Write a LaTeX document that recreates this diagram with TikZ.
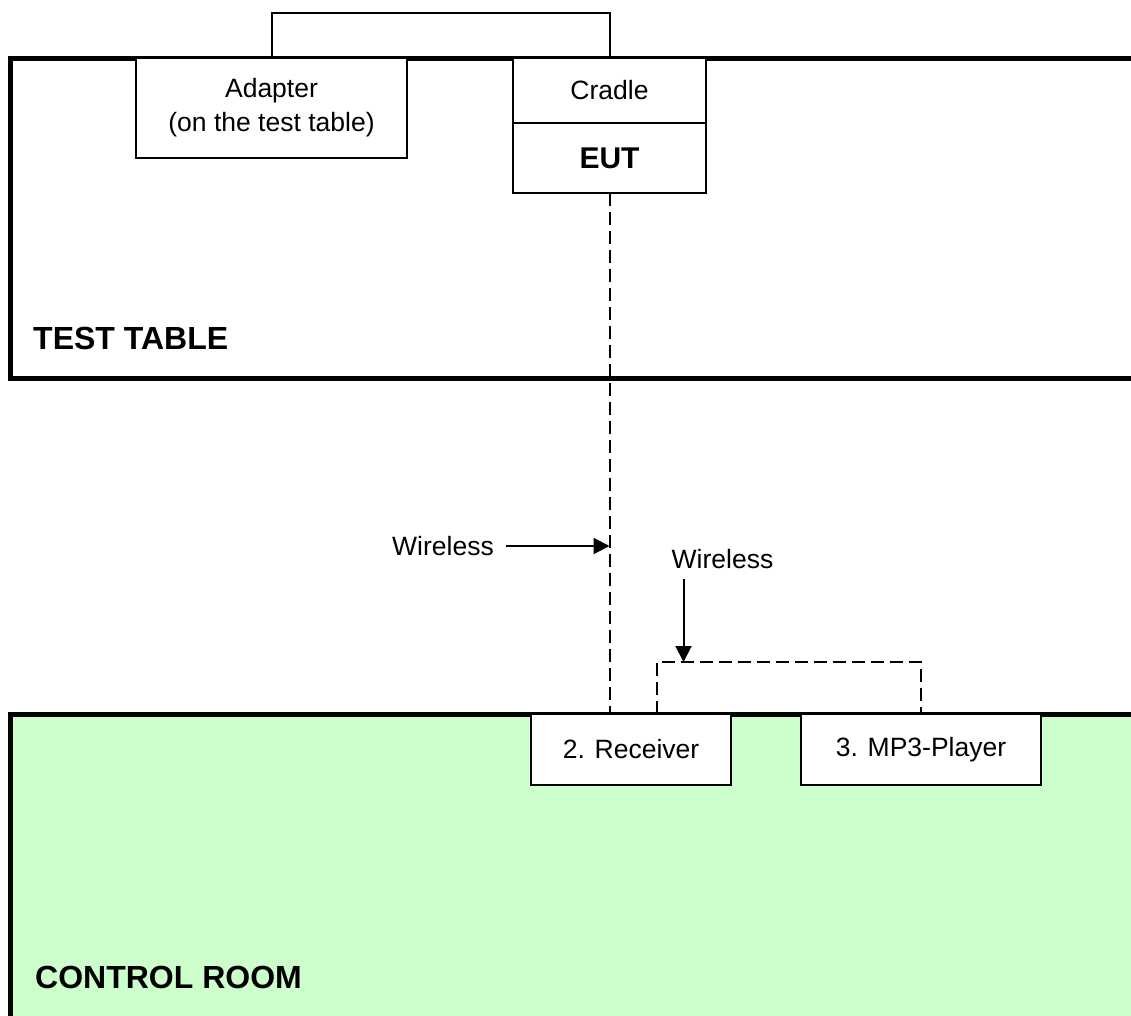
\documentclass[tikz,border=0pt]{standalone}
\usepackage{fontspec}
\setmainfont{Liberation Sans}
\usetikzlibrary{arrows.meta,positioning}
\definecolor{roomgreen}{HTML}{CCFFCC}

\begin{document}
\begin{tikzpicture}[x=1pt,y=-1pt,
  box/.style={draw,line width=2pt,fill=white,inner sep=0pt,outer sep=0pt,align=center,font=\fontsize{26.5}{34}\selectfont},
  wall/.style={line width=5pt},
  air/.style={line width=2pt,dash pattern=on 13pt off 6pt},
  ray/.style={line width=2pt,-{Triangle[length=16pt,width=16pt]}},
  zonename/.style={anchor=west,inner sep=0pt,font=\bfseries\fontsize{32}{38}\selectfont},
  radiolabel/.style={inner sep=0pt,font=\fontsize{26.5}{32}\selectfont}]
\clip (0,0) rectangle (1131,1016);

% Test table and control room
\draw [wall] (10,59) rectangle (1150,378);
\filldraw [wall,fill=roomgreen] (10,714) rectangle (1150,1040);
\node [zonename] (table) at (33,338) {TEST TABLE};
\node [zonename] (room) at (35,977) {CONTROL ROOM};

% Devices on the table
\node [box,minimum width=271pt,minimum height=100pt] (adapter) at (271.5,108) {Adapter\\(on the test table)};
\node [box,minimum width=193pt,minimum height=65pt] (cradle) at (609.5,90.5) {Cradle};
\node [box,below=0pt of cradle,minimum width=193pt,minimum height=70pt,font=\bfseries\fontsize{30}{36}\selectfont] (eut) {EUT};
\draw [line width=2pt] (adapter.north) -- ++(0,-45) -| (cradle.north);

% Devices in the control room
\node [box,minimum width=200pt,minimum height=71pt] (receiver) at (631,749.5) {2. Receiver};
\node [box,minimum width=240pt,minimum height=71pt] (mp3) at (921,749.5) {3. MP3-Player};

% Wireless links
\draw [air] (eut.south) -- (eut.south |- receiver.north);
\draw [air] ([xshift=25.5pt]receiver.north) -- ++(0,-52) coordinate (hop) -| (mp3.north);
\coordinate (drop) at ([xshift=27pt]hop);

\node [radiolabel] (wl1) at (443,546) {Wireless};
\draw [ray] ([xshift=12pt]wl1.east) -- (wl1.east -| eut.south);
\node [radiolabel] (wl2) at (722.5,559) {Wireless};
\draw [ray] ([yshift=-10pt]wl2.south -| drop) -- (drop);

\end{tikzpicture}
\end{document}
